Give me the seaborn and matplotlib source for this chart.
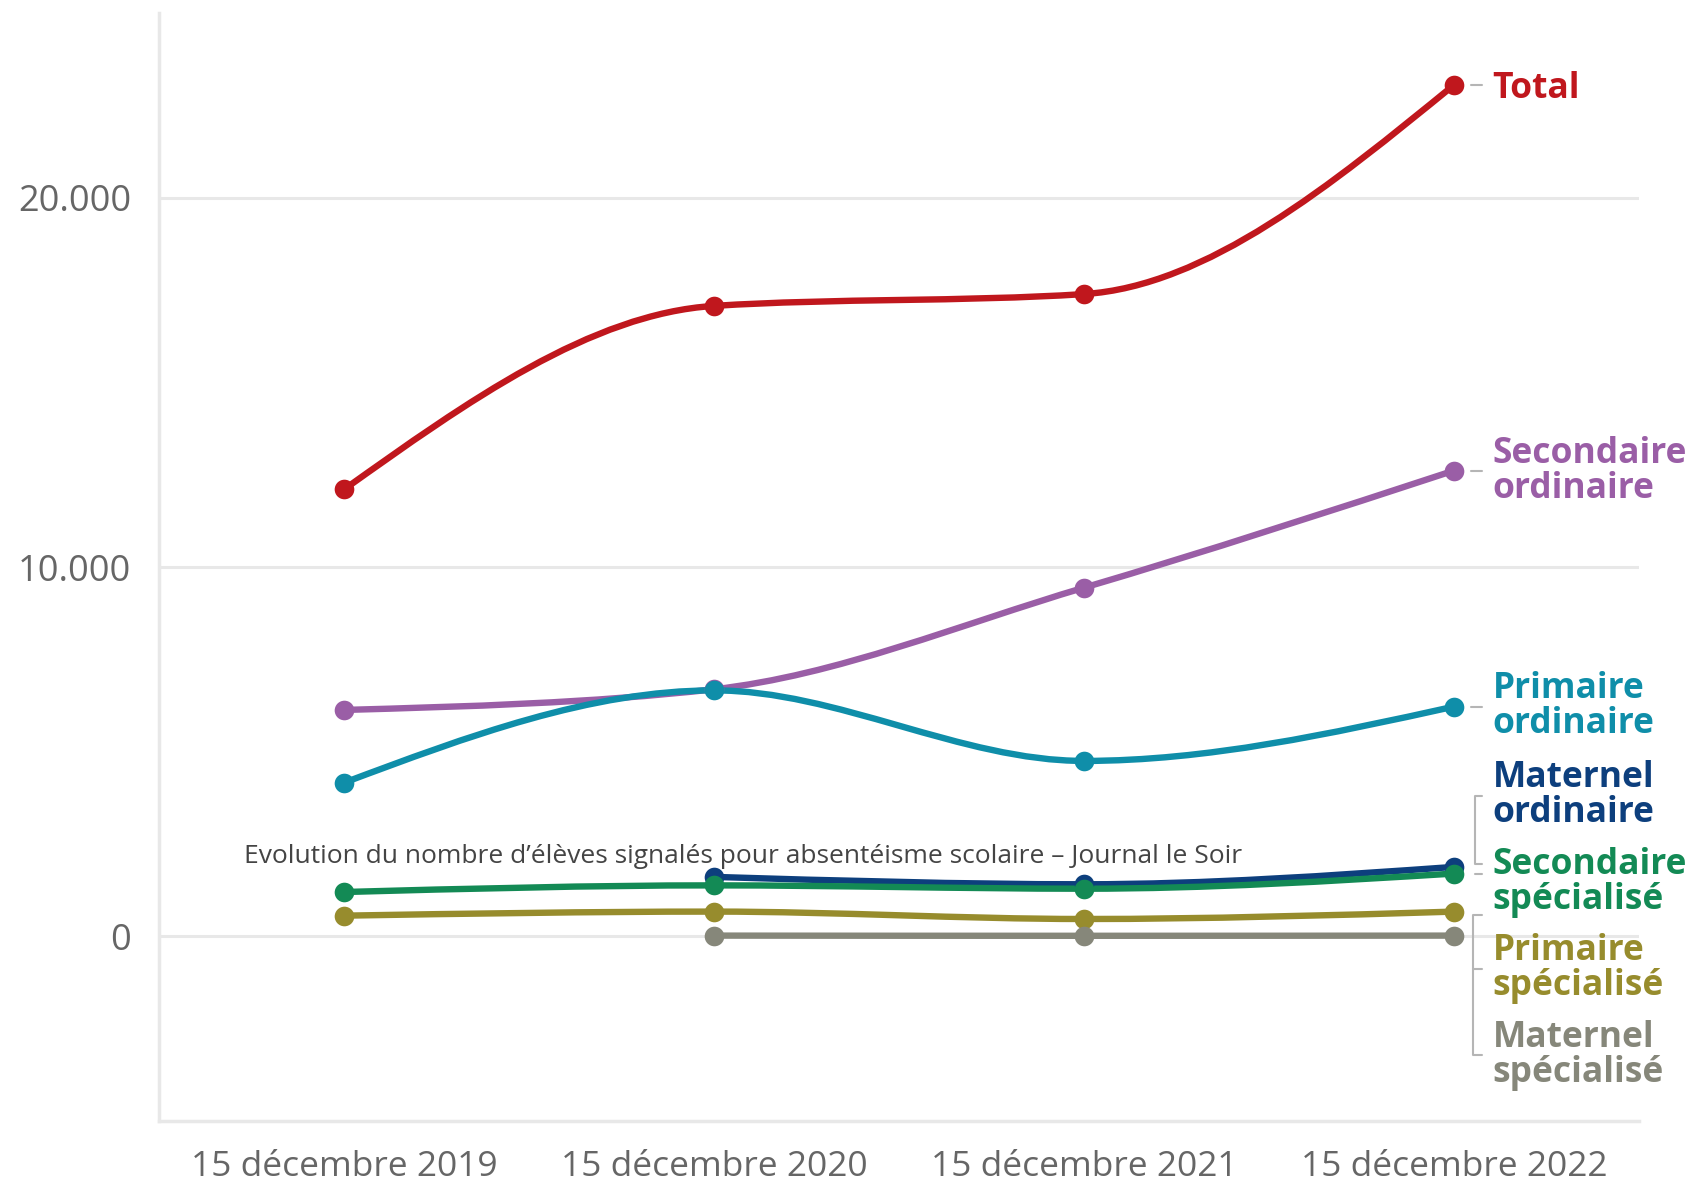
import numpy as np
import pandas as pd
import matplotlib
matplotlib.use("Agg")
import matplotlib.pyplot as plt
import seaborn as sns
from matplotlib.path import Path
from matplotlib.patches import PathPatch

# data
dates = ["15 décembre 2019", "15 décembre 2020", "15 décembre 2021", "15 décembre 2022"]
names = ["Total", "Secondaire ordinaire", "Primaire ordinaire", "Maternel ordinaire",
         "Secondaire spécialisé", "Primaire spécialisé", "Maternel spécialisé"]
total = [12100, 17070, 17390, 23050]
secondaire_ordinaire = [6130, 6690, 9440, 12610]
primaire_ordinaire = [4160, 6660, 4750, 6220]
maternel_ordinaire = [np.nan, 1610, 1410, 1880]
secondaire_specialise = [1200, 1380, 1290, 1700]
primaire_specialise = [560, 670, 470, 670]
maternel_specialise = [np.nan, 20, 15, 20]
colors = ["#c0171d", "#9a5ea6", "#0f8ea9", "#0d3f7d", "#138a55", "#978c2d", "#86877a"]
label_text = ["Total", "Secondaire\nordinaire", "Primaire\nordinaire", "Maternel\nordinaire",
              "Secondaire\nspécialisé", "Primaire\nspécialisé", "Maternel\nspécialisé"]
label_y = [22930, 12580, 6220, 3810, 1470, -880, -3230]

values = [total, secondaire_ordinaire, primaire_ordinaire, maternel_ordinaire,
          secondaire_specialise, primaire_specialise, maternel_specialise]

rows = []
for name, vals in zip(names, values):
    for i, v in enumerate(vals):
        if not np.isnan(v):
            rows.append({"serie": name, "x": i, "date": dates[i], "valeur": v})
df = pd.DataFrame(rows)


def monotone_path(xs, ys):
    # same curve as d3.curveMonotoneX
    xs = np.asarray(xs, float)
    ys = np.asarray(ys, float)
    n = len(xs)
    h = np.diff(xs)
    s = np.diff(ys) / h
    t = np.zeros(n)
    if n > 2:
        for i in range(1, n - 1):
            p = (s[i - 1] * h[i] + s[i] * h[i - 1]) / (h[i - 1] + h[i])
            t[i] = (np.sign(s[i - 1]) + np.sign(s[i])) * min(abs(s[i - 1]), abs(s[i]), 0.5 * abs(p))
        t[0] = (3 * s[0] - t[1]) / 2
        t[-1] = (3 * s[-1] - t[-2]) / 2
    else:
        t[:] = s[0]
    verts = [(xs[0], ys[0])]
    codes = [Path.MOVETO]
    for i in range(n - 1):
        dx = h[i] / 3
        verts += [(xs[i] + dx, ys[i] + dx * t[i]),
                  (xs[i + 1] - dx, ys[i + 1] - dx * t[i + 1]),
                  (xs[i + 1], ys[i + 1])]
        codes += [Path.CURVE4] * 3
    return Path(verts, codes)


sns.set_style("white")
plt.rcParams['font.family'] = ['Open Sans', 'DejaVu Sans']

fig = plt.figure(figsize=(16.99, 11.84), dpi=100)
ax = fig.add_axes([0.0936, 0.0532, 0.871, 0.9358])

grid_col = "#e8e8e8"
for yv in [0, 10000, 20000]:
    ax.axhline(yv, color=grid_col, lw=2.2, zorder=0)

for name, col in zip(names, colors):
    sub = df[df["serie"] == name]
    path = monotone_path(sub["x"], sub["valeur"])
    ax.add_patch(PathPatch(path, facecolor="none", edgecolor=col, lw=4.6,
                           capstyle="round", joinstyle="round", zorder=2))
    sns.scatterplot(data=sub, x="x", y="valeur", color=col, s=200, linewidth=0,
                    ax=ax, zorder=3, legend=False)

# labels on the right
for txt, ly, col in zip(label_text, label_y, colors):
    ax.text(3.105, ly, txt, color=col, fontsize=25.5, fontweight="bold",
            va="center", ha="left", linespacing=0.96, clip_on=False)

lead = "#b5b5b5"
for ly in [23050, 12610, 6220]:
    ax.plot([3.045, 3.075], [ly, ly], color=lead, lw=1.5, clip_on=False)
# brackets for the crowded labels
ax.plot([3.075, 3.058, 3.058, 3.075], [3800, 3800, 1950, 1950], color=lead, lw=1.5, clip_on=False)
ax.plot([3.058, 3.075], [1700, 1700], color=lead, lw=1.5, clip_on=False)
ax.plot([3.075, 3.052, 3.052, 3.075], [580, 580, -3220, -3220], color=lead, lw=1.5, clip_on=False)
ax.plot([3.052, 3.075], [-880, -880], color=lead, lw=1.5, clip_on=False)

ax.set_xlim(-0.5, 3.5)
ax.set_ylim(-5000, 25000)
ax.set_xticks(range(len(dates)))
ax.set_xticklabels(dates)
ax.set_yticks([0, 10000, 20000])
ax.set_yticklabels(["0", "10.000", "20.000"])
ax.set_xlabel("")
ax.set_ylabel("")
ax.tick_params(axis="y", length=17, width=2.2, color=grid_col, labelsize=26, labelcolor="#666666", pad=3)
ax.tick_params(axis="x", length=9, width=1.5, color="#cccccc", labelsize=25.5, labelcolor="#666666", pad=12)
for side in ["top", "right"]:
    ax.spines[side].set_visible(False)
for side in ["left", "bottom"]:
    ax.spines[side].set_color(grid_col)
    ax.spines[side].set_linewidth(2.5)

fig.text(0.1436, 0.277, "Evolution du nombre d’élèves signalés pour absentéisme scolaire – Journal le Soir",
         fontsize=19, color="#444444", ha="left", va="center", zorder=5)

fig.savefig("out.png", dpi=100)
